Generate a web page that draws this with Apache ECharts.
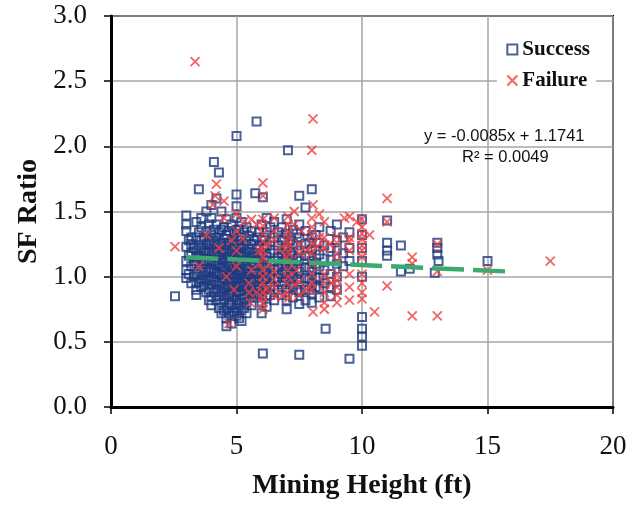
<!DOCTYPE html>
<html>
<head>
<meta charset="utf-8">
<script src="https://cdn.jsdelivr.net/npm/echarts@6/dist/echarts.min.js"></script>
<style>
  html, body { margin: 0; padding: 0; background: #fff; }
  #main { width: 636px; height: 505px; }
</style>
</head>
<body>
<div id="main"></div>
<script>
// x ticks / y ticks
var xTicks = [0, 5, 10, 15, 20];
var yTicks = [0, 0.5, 1.0, 1.5, 2.0, 2.5, 3.0];

// Success cases [mining height, SF ratio]
var success = [
  [2.55, 0.85],
  [3.0, 1.47], [3.0, 1.35], [3.0, 1.23], [3.0, 1.12], [3.0, 0.99], [3.0, 1.05], [3.0, 1.40],
  [3.1, 1.28], [3.1, 1.16], [3.1, 1.02],
  [3.2, 1.30], [3.2, 1.18], [3.2, 1.08], [3.2, 0.95], [3.2, 1.25],
  [3.3, 1.22], [3.3, 1.12], [3.3, 1.00],
  [3.4, 0.86], [3.4, 0.90], [3.5, 1.67], [3.4, 1.42], [3.4, 1.30], [3.4, 1.20], [3.4, 1.15], [3.4, 1.10], [3.4, 1.02], [3.4, 0.95],
  [3.5, 1.34], [3.5, 1.24], [3.5, 1.16], [3.5, 1.04], [3.5, 0.96],
  [3.6, 1.38], [3.6, 1.28], [3.6, 1.22], [3.6, 1.14], [3.6, 1.06], [3.6, 0.98], [3.6, 0.92], [3.6, 1.45],
  [3.7, 1.30], [3.7, 1.20], [3.7, 1.12], [3.7, 1.01], [3.7, 0.93],
  [3.8, 1.50], [3.8, 1.35], [3.8, 1.25], [3.8, 1.18], [3.8, 1.10], [3.8, 1.03], [3.8, 0.97], [3.8, 0.88],
  [3.9, 1.40], [3.9, 1.28], [3.9, 1.20], [3.9, 1.13], [3.9, 1.05], [3.9, 0.98], [3.9, 0.90], [3.9, 0.82],
  [4.1, 1.88], [4.0, 1.55], [4.0, 1.45], [4.0, 1.32], [4.0, 1.24], [4.0, 1.16], [4.0, 1.12], [4.0, 1.06], [4.0, 1.00], [4.0, 0.94], [4.0, 0.85], [4.0, 0.78],
  [4.1, 1.36], [4.1, 1.27], [4.1, 1.19], [4.1, 1.11], [4.1, 1.04], [4.1, 0.97], [4.1, 0.88],
  [4.3, 1.80], [4.2, 1.60], [4.2, 1.40], [4.2, 1.30], [4.2, 1.22], [4.2, 1.15], [4.2, 1.09], [4.2, 1.03], [4.2, 0.96], [4.2, 0.90], [4.2, 0.82],
  [4.3, 1.34], [4.3, 1.25], [4.3, 1.17], [4.3, 1.10], [4.3, 1.02], [4.3, 0.93], [4.3, 0.85], [4.3, 0.76],
  [4.4, 1.50], [4.4, 1.36], [4.4, 1.26], [4.4, 1.19], [4.4, 1.13], [4.4, 1.07], [4.4, 1.01], [4.4, 0.95], [4.4, 0.88], [4.4, 0.80], [4.4, 0.72],
  [4.5, 1.38], [4.5, 1.29], [4.5, 1.21], [4.5, 1.14], [4.5, 1.06], [4.5, 0.99], [4.5, 0.91], [4.5, 0.83], [4.5, 0.74],
  [4.6, 1.44], [4.6, 1.32], [4.6, 1.24], [4.6, 1.18], [4.6, 1.11], [4.6, 1.04], [4.6, 0.98], [4.6, 0.92], [4.6, 0.85], [4.6, 0.76], [4.6, 0.68], [4.6, 0.62],
  [4.7, 1.35], [4.7, 1.26], [4.7, 1.16], [4.7, 1.09], [4.7, 1.01], [4.7, 0.94], [4.7, 0.87], [4.7, 0.80], [4.7, 0.72],
  [4.8, 1.40], [4.8, 1.28], [4.8, 1.20], [4.8, 1.14], [4.8, 1.08], [4.8, 1.02], [4.8, 0.96], [4.8, 0.90], [4.8, 0.84], [4.8, 0.78], [4.8, 0.70], [4.8, 0.64],
  [4.9, 1.33], [4.9, 1.24], [4.9, 1.15], [4.9, 1.06], [4.9, 0.99], [4.9, 0.92], [4.9, 0.86], [4.9, 0.73],
  [5.0, 2.08], [5.0, 1.63], [5.0, 1.54], [5.0, 1.45], [5.0, 1.36], [5.0, 1.28], [5.0, 1.22], [5.0, 1.17], [5.0, 1.13], [5.0, 1.09], [5.0, 1.05], [5.0, 1.01], [5.0, 0.97], [5.0, 0.93], [5.0, 0.88], [5.0, 0.82], [5.0, 0.76], [5.0, 0.70],
  [5.1, 1.36], [5.1, 1.25], [5.1, 1.18], [5.1, 1.11], [5.1, 1.03], [5.1, 0.95], [5.1, 0.89], [5.1, 0.78], [5.1, 0.68],
  [5.2, 1.42], [5.2, 1.30], [5.2, 1.22], [5.2, 1.15], [5.2, 1.10], [5.2, 1.04], [5.2, 0.99], [5.2, 0.93], [5.2, 0.86], [5.2, 0.80], [5.2, 0.74], [5.2, 0.66],
  [5.3, 1.34], [5.3, 1.24], [5.3, 1.17], [5.3, 1.08], [5.3, 1.02], [5.3, 0.96], [5.3, 0.90], [5.3, 0.83], [5.3, 0.76],
  [5.4, 1.38], [5.4, 1.27], [5.4, 1.19], [5.4, 1.12], [5.4, 1.06], [5.4, 1.00], [5.4, 0.94], [5.4, 0.87], [5.4, 0.80], [5.4, 0.72],
  [5.5, 1.31], [5.5, 1.21], [5.5, 1.14], [5.5, 1.05], [5.5, 0.98], [5.5, 0.91], [5.5, 0.84],
  [5.6, 1.35], [5.6, 1.25], [5.6, 1.16], [5.6, 1.09], [5.6, 1.02], [5.6, 0.95], [5.6, 0.88], [5.6, 0.78],
  [5.7, 1.28], [5.7, 1.18], [5.7, 1.11], [5.7, 1.03], [5.7, 0.96], [5.7, 0.87],
  [5.8, 2.19], [5.75, 1.64], [5.8, 1.30], [5.8, 1.21], [5.8, 1.13], [5.8, 1.05], [5.8, 0.98], [5.8, 0.90], [5.8, 0.84],
  [5.9, 1.34], [5.9, 1.24], [5.9, 1.16], [5.9, 1.08], [5.9, 1.00], [5.9, 0.93], [5.9, 0.86],
  [6.05, 1.61], [6.0, 1.40], [6.0, 1.28], [6.0, 1.18], [6.0, 1.10], [6.0, 1.03], [6.0, 0.96], [6.0, 0.88], [6.0, 0.80], [6.0, 0.72], [6.05, 0.41],
  [6.1, 1.30], [6.1, 1.22], [6.1, 1.13], [6.1, 1.05], [6.1, 0.98], [6.1, 0.90],
  [6.2, 1.45], [6.2, 1.34], [6.2, 1.24], [6.2, 1.15], [6.2, 1.07], [6.2, 1.00], [6.2, 0.92], [6.2, 0.85], [6.2, 0.77],
  [6.35, 1.38], [6.35, 1.27], [6.35, 1.18], [6.35, 1.09], [6.35, 1.01], [6.35, 0.93], [6.35, 0.86],
  [6.5, 1.42], [6.5, 1.30], [6.5, 1.20], [6.5, 1.12], [6.5, 1.05], [6.5, 0.98], [6.5, 0.90], [6.5, 0.82],
  [6.65, 1.34], [6.65, 1.24], [6.65, 1.15], [6.65, 1.07], [6.65, 0.99], [6.65, 0.90],
  [6.8, 1.38], [6.8, 1.28], [6.8, 1.18], [6.8, 1.10], [6.8, 1.02], [6.8, 0.94], [6.8, 0.86],
  [6.9, 1.30], [6.9, 1.20], [6.9, 1.12], [6.9, 1.04], [6.9, 0.96],
  [7.05, 1.97], [7.0, 1.44], [7.0, 1.33], [7.0, 1.22], [7.0, 1.14], [7.0, 1.06], [7.0, 0.99], [7.0, 0.91], [7.0, 0.82], [7.0, 0.75],
  [7.15, 1.28], [7.15, 1.18], [7.15, 1.10], [7.15, 1.02], [7.15, 0.94],
  [7.25, 1.36], [7.25, 1.25], [7.25, 1.16], [7.25, 1.08], [7.25, 1.00], [7.25, 0.92], [7.25, 0.84],
  [7.4, 1.33], [7.4, 1.24], [7.4, 1.14], [7.4, 1.06], [7.4, 0.98], [7.4, 0.90],
  [7.5, 1.62], [7.5, 1.40], [7.5, 1.30], [7.5, 1.20], [7.5, 1.12], [7.5, 1.04], [7.5, 0.96], [7.5, 0.88], [7.5, 0.79], [7.5, 0.40],
  [7.75, 1.53], [7.75, 1.35], [7.75, 1.25], [7.75, 1.16], [7.75, 1.07], [7.75, 0.99], [7.75, 0.90], [7.75, 0.82],
  [7.9, 1.26], [7.9, 1.16], [7.9, 1.07], [7.9, 0.98], [7.9, 0.90],
  [8.0, 1.67], [8.0, 1.30], [8.0, 1.21], [8.0, 1.12], [8.0, 1.04], [8.0, 0.95], [8.0, 0.87], [8.0, 0.80],
  [8.15, 1.32], [8.15, 1.20], [8.15, 1.10], [8.15, 1.00], [8.15, 0.92],
  [8.3, 1.38], [8.3, 1.26], [8.3, 1.17], [8.3, 1.08], [8.3, 0.99], [8.3, 0.91], [8.3, 0.84],
  [8.5, 1.24], [8.5, 1.14], [8.5, 1.05], [8.5, 0.95], [8.55, 0.60],
  [8.75, 1.35], [8.75, 1.22], [8.75, 1.13], [8.75, 1.02], [8.75, 0.92], [8.75, 0.85],
  [9.0, 1.40], [9.0, 1.28], [9.0, 1.20], [9.0, 1.10], [9.0, 1.00], [9.0, 0.90],
  [9.25, 1.30], [9.25, 1.18], [9.25, 1.08],
  [9.5, 1.34], [9.5, 1.22], [9.5, 1.12], [9.5, 0.37],
  [10.0, 1.44], [10.0, 1.32], [10.0, 1.22], [10.0, 1.12], [10.0, 1.00], [10.0, 0.69], [10.0, 0.60], [10.0, 0.54], [10.0, 0.47],
  [11.0, 1.43], [11.0, 1.26], [11.0, 1.20], [11.0, 1.16],
  [11.55, 1.24], [11.55, 1.04], [11.9, 1.06],
  [13.0, 1.26], [13.0, 1.22], [13.0, 1.17], [13.05, 1.12], [12.9, 1.03],
  [15.0, 1.12]
];

// Failure cases [mining height, SF ratio]
var failure = [
  [2.55, 1.23], [3.35, 2.65], [3.5, 1.08], [3.8, 1.32], [4.05, 1.55], [4.2, 1.71], [4.15, 1.62],
  [4.5, 1.58], [4.5, 1.45], [4.6, 1.00], [4.3, 1.22], [4.7, 0.64], [4.9, 0.90], [5.0, 1.48],
  [5.0, 1.35], [5.0, 1.20], [5.0, 1.08], [4.8, 1.28], [5.25, 1.29], [5.3, 1.42], [5.5, 0.95],
  [5.5, 0.88], [5.6, 1.44], [5.55, 0.80], [5.6, 1.05], [5.8, 1.40], [5.8, 0.88], [5.9, 1.20],
  [5.9, 1.10], [6.05, 1.72], [6.05, 1.62], [6.05, 1.44], [6.05, 1.39], [6.05, 1.33], [6.05, 1.27],
  [6.05, 1.20], [6.05, 1.15], [6.05, 1.05], [6.05, 1.00], [6.05, 0.95], [6.05, 0.88], [6.05, 0.84],
  [6.05, 0.80], [6.05, 0.75], [6.2, 1.25], [6.2, 0.90], [6.3, 1.10], [6.5, 1.04], [6.5, 0.92],
  [6.5, 0.98], [6.55, 0.85], [6.5, 1.45], [6.5, 1.35], [6.5, 1.28], [6.7, 1.21], [6.8, 0.85],
  [7.05, 1.46], [7.05, 1.40], [7.05, 1.34], [7.05, 1.30], [7.05, 1.26], [7.05, 1.23], [7.05, 1.19],
  [7.05, 1.12], [7.05, 1.05], [7.05, 1.00], [7.0, 1.15], [7.0, 0.95], [7.0, 0.88], [7.1, 0.84],
  [7.3, 1.50], [7.3, 1.40], [7.33, 0.94], [7.4, 1.05], [7.5, 0.86], [7.5, 1.25], [7.5, 1.18],
  [7.5, 0.96], [7.6, 1.35], [7.8, 1.20], [7.8, 0.90], [8.05, 2.21], [8.0, 1.97], [8.05, 1.55],
  [8.0, 1.45], [8.0, 1.38], [8.0, 1.32], [8.0, 1.25], [8.0, 1.18], [8.0, 1.10], [8.0, 1.02],
  [8.0, 0.95], [8.0, 0.90], [8.05, 0.73], [8.2, 1.23], [8.3, 1.48], [8.3, 1.30], [8.5, 1.42],
  [8.5, 1.30], [8.5, 1.22], [8.5, 1.02], [8.5, 0.95], [8.5, 0.88], [8.5, 0.80], [8.5, 0.75],
  [8.7, 1.25], [8.8, 0.95], [9.0, 1.31], [9.0, 1.26], [9.0, 1.18], [9.0, 1.12], [9.0, 1.02],
  [9.0, 0.97], [9.0, 0.92], [9.0, 0.86], [9.0, 0.80], [9.3, 1.45], [9.5, 1.46], [9.5, 1.30],
  [9.5, 1.27], [9.5, 1.20], [9.5, 1.02], [9.5, 0.92], [9.5, 0.82], [9.8, 1.42], [10.0, 1.44],
  [10.0, 1.38], [10.0, 1.33], [10.0, 1.29], [10.0, 1.24], [10.0, 1.20], [10.0, 1.15], [10.0, 1.02],
  [10.0, 0.95], [10.0, 0.88], [10.0, 0.83], [10.3, 1.32], [10.5, 0.73], [11.0, 1.60], [11.0, 1.42],
  [11.0, 0.93], [12.0, 1.15], [12.0, 1.10], [12.0, 0.70], [13.0, 1.25], [13.0, 1.04], [13.0, 0.70],
  [15.0, 1.05], [17.5, 1.12]
];

// trend line end points
var trendX = [3, 16];
var trendY = [1.149, 1.038];

var serif = '"Liberation Serif", "Times New Roman", serif';
var myChart = echarts.init(document.getElementById('main'));
myChart.setOption({
  animation: false,
  grid: {
    left: 111,
    right: 23,
    top: 16,
    bottom: 97,
    show: true,
    borderColor: '#000',
    borderWidth: 2,
    backgroundColor: '#fff'
  },
  legend: {
    orient: 'vertical',
    right: 40,
    top: 35,
    backgroundColor: '#fff',
    padding: [4, 6, 4, 8],
    itemGap: 10,
    itemWidth: 10,
    itemHeight: 10,
    textStyle: { fontFamily: serif, fontWeight: 'bold', fontSize: 21, color: '#111' },
    data: ['Success', 'Failure']
  },
  xAxis: {
    type: 'value',
    min: xTicks[0],
    max: xTicks[xTicks.length - 1],
    interval: 5,
    name: 'Mining Height (ft)',
    nameLocation: 'middle',
    nameGap: 65,
    nameTextStyle: { fontFamily: serif, fontWeight: 'bold', fontSize: 28, color: '#111' },
    axisLine: { show: true, lineStyle: { color: '#000', width: 3 } },
    axisTick: { show: true, length: 7, lineStyle: { color: '#000', width: 1.5 } },
    axisLabel: { margin: 26, fontFamily: serif, fontSize: 27, color: '#111' },
    splitLine: { show: true, lineStyle: { color: '#a6a6a6', width: 1.5 } }
  },
  yAxis: {
    type: 'value',
    min: yTicks[0],
    max: yTicks[yTicks.length - 1],
    interval: 0.5,
    name: 'SF Ratio',
    nameLocation: 'middle',
    nameGap: 67,
    nameTextStyle: { fontFamily: serif, fontWeight: 'bold', fontSize: 28, color: '#111' },
    axisLine: { show: true, lineStyle: { color: '#000', width: 3 } },
    axisTick: { show: true, length: 7, lineStyle: { color: '#000', width: 1.5 } },
    axisLabel: {
      margin: 24, fontFamily: serif, fontSize: 27, color: '#111',
      formatter: function (v) { return v.toFixed(1); }
    },
    splitLine: { show: true, lineStyle: { color: '#a6a6a6', width: 1.5 } }
  },
  graphic: [
    {
      type: 'text', left: 424, top: 128, z: 100,
      style: { text: 'y = -0.0085x + 1.1741', font: '16.5px "Liberation Sans", Arial, sans-serif', fill: '#111' }
    },
    {
      type: 'text', left: 462, top: 149, z: 100,
      style: { text: 'R\u00b2 = 0.0049', font: '16.5px "Liberation Sans", Arial, sans-serif', fill: '#111' }
    }
  ],
  series: [
    {
      name: 'Success',
      type: 'scatter',
      symbol: 'rect',
      symbolSize: 8,
      data: success,
      itemStyle: { color: 'rgba(255,255,255,0)', borderColor: '#1e3a80', borderWidth: 2 },
      z: 2
    },
    {
      name: 'Failure',
      type: 'scatter',
      symbol: 'path://M0,0L10,10M10,0L0,10',
      symbolSize: 9,
      data: failure,
      itemStyle: { color: 'none', borderColor: '#ef3f3f', borderWidth: 1.8 },
      z: 3
    },
    {
      name: 'trend',
      type: 'line',
      data: [[trendX[0], trendY[0]], [trendX[1], trendY[1]]],
      symbol: 'none',
      lineStyle: { color: '#3aaa6e', width: 4.5, type: [32, 9] },
      z: 4
    }
  ]
});
</script>
</body>
</html>
